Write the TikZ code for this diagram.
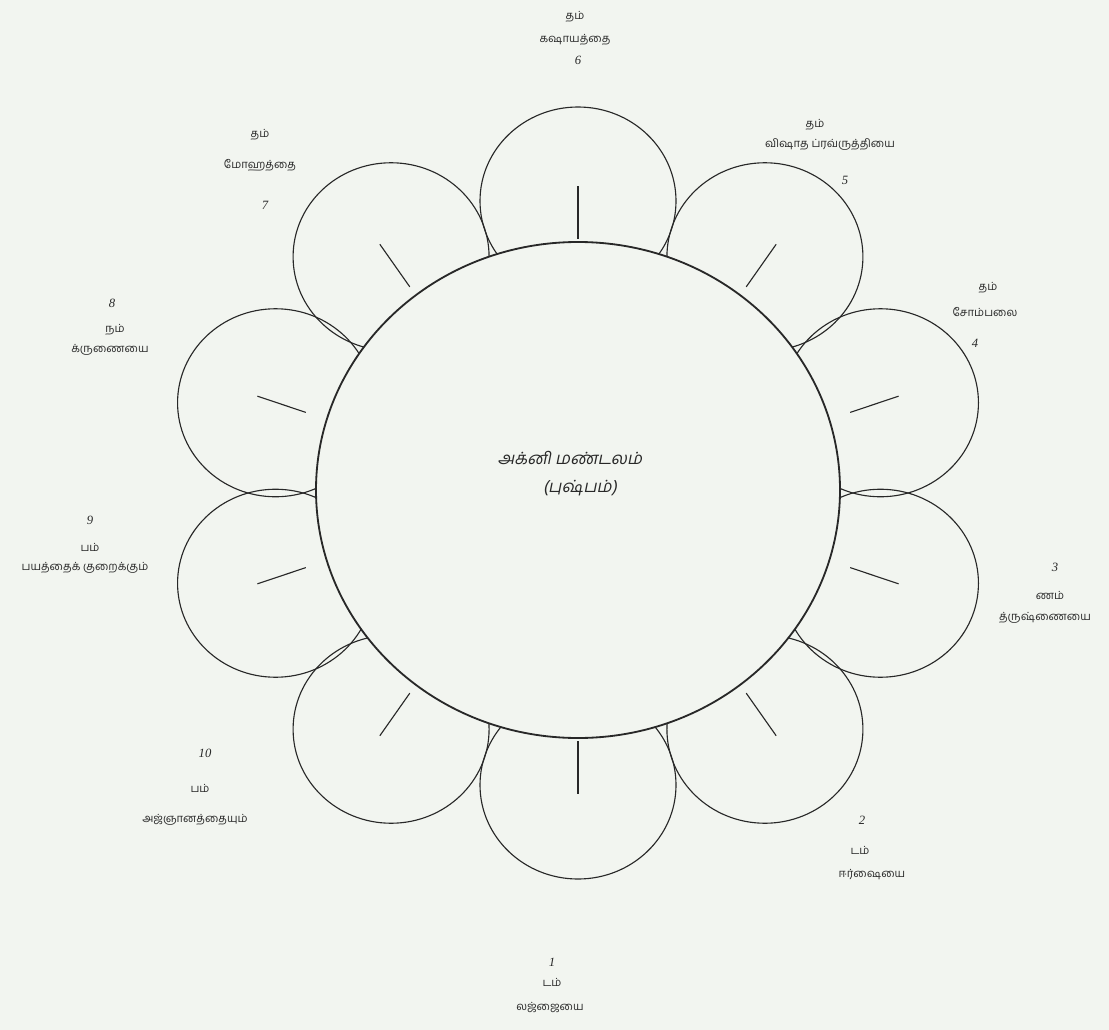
\documentclass[tikz,border=0pt]{standalone}
\usepackage{fontspec}
\usepackage{tikz}
\usetikzlibrary{positioning}
\setmainfont{Liberation Serif}
\newfontfamily\tamilfont[Script=Tamil]{Hind Madurai}
\newfontfamily\tamilslant[Script=Tamil,FakeSlant=0.2]{Hind Madurai}
\definecolor{ink}{RGB}{40,40,40}
\definecolor{paper}{RGB}{242,245,240}
\tikzset{
  petal/.style={draw=ink, line width=0.8pt},
  hub/.style={draw=ink, fill=paper, line width=1.3pt},
  vein/.style={draw=ink, line width=0.8pt},
  syl/.style={font=\tamilfont\footnotesize, text=ink, inner sep=1pt},
  quality/.style={font=\tamilfont\footnotesize, text=ink, inner sep=1pt},
  num/.style={font=\small\itshape, text=ink, inner sep=1pt},
  hubtext/.style={font=\tamilslant\large, text=ink, inner sep=1pt}
}

\begin{document}
\begin{tikzpicture}[x=0.025cm, y=-0.025cm]
  \useasboundingbox[fill=paper] (0,0) rectangle (1109,1030);

  % Petals
  \foreach \a in {90,54,18,-18,-54,-90,-126,-162,162,126} {
    \draw[petal] ({578+318*cos(\a)},{493-292*sin(\a)}) ellipse [x radius=98, y radius=94];
    \draw[vein] ({578+0.9*318*cos(\a)},{490-0.86*292*sin(\a)})
      -- ({578+1.06*318*cos(\a)},{490-1.04*292*sin(\a)});
  }

  % Hub
  \draw[hub] (578,490) ellipse [x radius=262, y radius=248];
  \node[hubtext] (hub1) at (570,458) {அக்னி மண்டலம்};
  \node[hubtext] (hub2) at (580,488) {(புஷ்பம்)};

  % Petal labels
  \node[syl] (s6) at (575,17) {தம்};
  \node[quality] (q6) at (575,40) {கஷாயத்தை};
  \node[num] (n6) at (578,60) {6};

  \node[syl] (s5) at (815,125) {தம்};
  \node[quality] (q5) at (830,145) {விஷாத ப்ரவ்ருத்தியை};
  \node[num] (n5) at (845,180) {5};

  \node[syl] (s4) at (988,288) {தம்};
  \node[quality] (q4) at (985,312) {சோம்பலை};
  \node[num] (n4) at (975,343) {4};

  \node[num] (n3) at (1055,567) {3};
  \node[syl] (s3) at (1050,595) {ணம்};
  \node[quality] (q3) at (1045,618) {த்ருஷ்ணையை};

  \node[num] (n2) at (862,820) {2};
  \node[syl] (s2) at (860,850) {டம்};
  \node[quality] (q2) at (872,875) {ஈர்ஷையை};

  \node[num] (n1) at (552,962) {1};
  \node[syl] (s1) at (552,982) {டம்};
  \node[quality] (q1) at (550,1007) {லஜ்ஜையை};

  \node[num] (n10) at (205,753) {10};
  \node[syl] (s10) at (200,788) {பம்};
  \node[quality] (q10) at (195,820) {அஜ்ஞானத்தையும்};

  \node[num] (n9) at (90,520) {9};
  \node[syl] (s9) at (90,547) {பம்};
  \node[quality] (q9) at (85,568) {பயத்தைக் குறைக்கும்};

  \node[num] (n8) at (112,303) {8};
  \node[syl] (s8) at (115,330) {நம்};
  \node[quality] (q8) at (110,350) {க்ருணையை};

  \node[syl] (s7) at (260,135) {தம்};
  \node[quality] (q7) at (260,165) {மோஹத்தை};
  \node[num] (n7) at (265,205) {7};
\end{tikzpicture}
\end{document}
